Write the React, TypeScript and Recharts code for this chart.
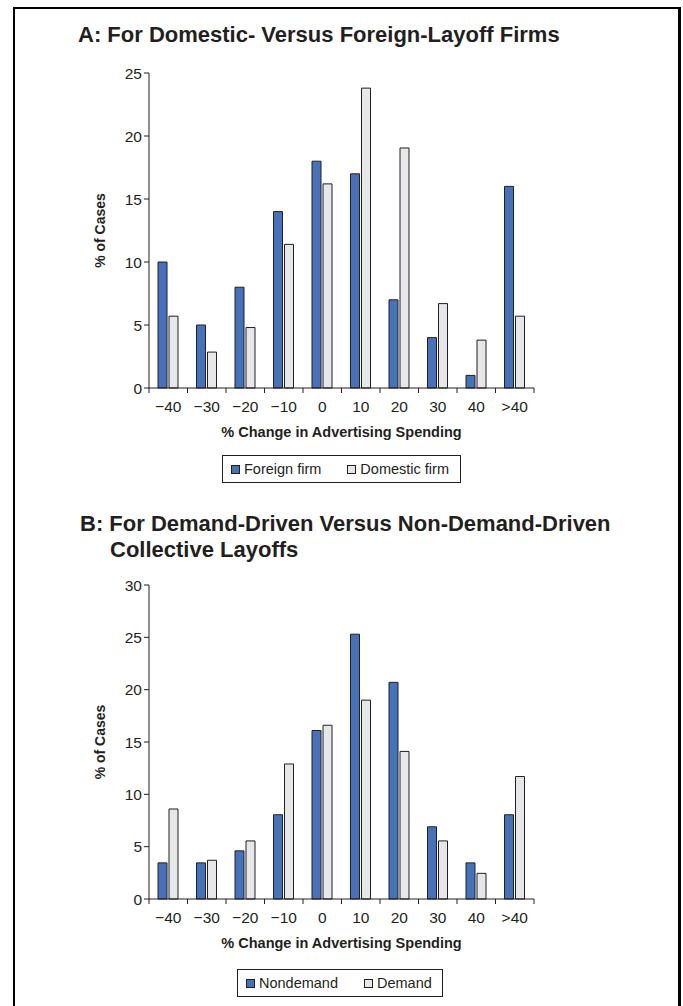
import React from "react";
import { BarChart, Bar, XAxis, YAxis } from "recharts";

const categories = ["−40", "−30", "−20", "−10", "0", "10", "20", "30", "40", ">40"];

// panel A
const foreignFirm = [10, 5, 8, 14, 18, 17, 7, 4, 1, 16];
const domesticFirm = [5.7, 2.85, 4.8, 11.4, 16.2, 23.8, 19.05, 6.7, 3.8, 5.7];
const ticksA = [0, 5, 10, 15, 20, 25];

// panel B
const nondemand = [3.45, 3.45, 4.6, 8.05, 16.1, 25.3, 20.7, 6.9, 3.45, 8.05];
const demand = [8.6, 3.7, 5.55, 12.9, 16.6, 19.0, 14.1, 5.55, 2.45, 11.7];
const ticksB = [0, 5, 10, 15, 20, 25, 30];

const INK = "#231F20";
const BLUE = "#4672BC";
const GREY = "#E6E7E8";
const FONT = '"Liberation Sans", Arial, sans-serif';

const PLOT_LEFT = 149;
const PLOT_RIGHT = 534;
const BAND = (PLOT_RIGHT - PLOT_LEFT) / categories.length;

const dataA = categories.map((c, i) => ({ cat: c, foreign: foreignFirm[i], domestic: domesticFirm[i] }));
const dataB = categories.map((c, i) => ({ cat: c, nondemand: nondemand[i], demand: demand[i] }));

function XTick(props: any) {
  const { x, y, payload, index } = props;
  const half = payload && payload.offset ? payload.offset : BAND / 2;
  const axisY = y - 13;
  return (
    <g>
      <line x1={x - half} x2={x - half} y1={axisY} y2={axisY + 5} stroke={INK} />
      {index === categories.length - 1 && (
        <line x1={x + half} x2={x + half} y1={axisY} y2={axisY + 5} stroke={INK} />
      )}
      <text x={x} y={y} dy="0.71em" textAnchor="middle" fill={INK} fontSize={15.5}>
        {payload.value}
      </text>
    </g>
  );
}

function Panel({ data, keys, names, ticks, top, plotTop, plotBottom }: any) {
  const xAxisH = 55;
  const height = plotBottom - top + xAxisH;
  return (
    <div style={{ position: "absolute", left: 0, top }}>
      <BarChart
        width={683}
        height={height}
        data={data}
        margin={{ top: plotTop - top, right: 683 - PLOT_RIGHT, bottom: 0, left: 60 }}
        barSize={9}
        barGap={2}
      >
        <XAxis
          dataKey="cat"
          height={xAxisH}
          stroke={INK}
          tickLine={false}
          tickSize={5}
          tickMargin={8}
          interval={0}
          tick={<XTick />}
          label={{
            value: "% Change in Advertising Spending",
            position: "insideBottom",
            offset: 6,
            fill: INK,
            fontSize: 14.5,
            fontWeight: "bold",
          }}
        />
        <YAxis
          width={PLOT_LEFT - 60}
          domain={[0, ticks[ticks.length - 1]]}
          ticks={ticks}
          interval={0}
          stroke={INK}
          tickSize={5}
          tickMargin={2}
          tick={{ fill: INK, fontSize: 15.5 }}
          label={{
            value: "% of Cases",
            angle: -90,
            position: "insideLeft",
            offset: 40,
            fill: INK,
            fontSize: 14,
            fontWeight: "bold",
            style: { textAnchor: "middle" },
          }}
        />
        <Bar dataKey={keys[0]} name={names[0]} fill={BLUE} stroke={INK} strokeWidth={1} isAnimationActive={false} />
        <Bar dataKey={keys[1]} name={names[1]} fill={GREY} stroke={INK} strokeWidth={1} isAnimationActive={false} />
      </BarChart>
    </div>
  );
}

function LegendBox({ names, left, top, width }: any) {
  return (
    <div
      style={{
        position: "absolute",
        left,
        top,
        width,
        height: 28,
        boxSizing: "border-box",
        border: `1.3px solid ${INK}`,
        display: "flex",
        alignItems: "center",
        paddingLeft: 8,
        gap: 26,
        fontSize: 14.5,
        color: INK,
      }}
    >
      {names.map((n: string, i: number) => (
        <div key={n} style={{ display: "flex", alignItems: "center" }}>
          <span
            style={{
              display: "inline-block",
              width: 7,
              height: 7,
              border: `1px solid ${INK}`,
              background: i === 0 ? BLUE : GREY,
              marginRight: 4,
            }}
          />
          <span>{n}</span>
        </div>
      ))}
    </div>
  );
}

const titleStyle: React.CSSProperties = {
  position: "absolute",
  fontSize: 22,
  fontWeight: "bold",
  lineHeight: "26px",
  color: INK,
  whiteSpace: "nowrap",
};

export default function App() {
  return (
    <div
      style={{
        position: "absolute",
        left: 0,
        top: 0,
        width: 683,
        height: 1006,
        overflow: "hidden",
        background: "#fff",
        fontFamily: FONT,
      }}
    >
      <div
        style={{
          position: "absolute",
          left: 13,
          top: 7,
          width: 668,
          height: 1100,
          boxSizing: "border-box",
          borderTop: `2px solid #000`,
          borderLeft: `2.5px solid #000`,
          borderRight: `3px solid #000`,
        }}
      />
      <div style={{ ...titleStyle, left: 78, top: 22 }}>A: For Domestic- Versus Foreign-Layoff Firms</div>
      <Panel
        data={dataA}
        keys={["foreign", "domestic"]}
        names={["Foreign firm", "Domestic firm"]}
        ticks={ticksA}
        top={0}
        plotTop={73}
        plotBottom={388}
      />
      <LegendBox names={["Foreign firm", "Domestic firm"]} left={222} top={455} width={239} />

      <div style={{ ...titleStyle, left: 80, top: 511 }}>B: For Demand-Driven Versus Non-Demand-Driven</div>
      <div style={{ ...titleStyle, left: 110, top: 537 }}>Collective Layoffs</div>
      <Panel
        data={dataB}
        keys={["nondemand", "demand"]}
        names={["Nondemand", "Demand"]}
        ticks={ticksB}
        top={500}
        plotTop={585}
        plotBottom={899}
      />
      <LegendBox names={["Nondemand", "Demand"]} left={237} top={969} width={206} />
    </div>
  );
}
